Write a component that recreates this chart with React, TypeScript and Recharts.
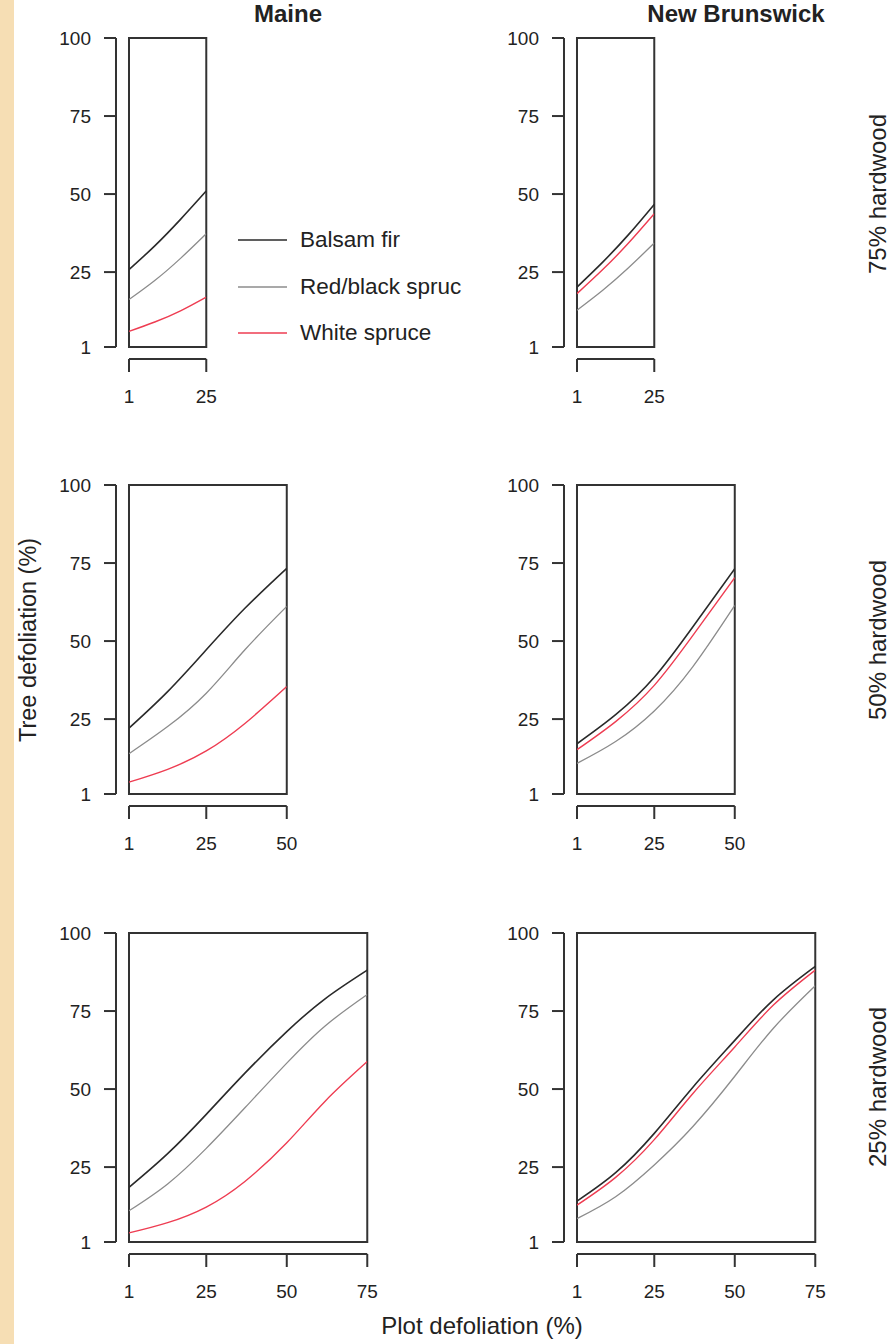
import React from 'react';
import { LineChart, Line, XAxis, YAxis, ReferenceArea, Legend } from 'recharts';

// ---------- data ----------
const Y_TICKS = [1, 25, 50, 75, 100];
const X_TICKS_25 = [1, 25];
const X_TICKS_50 = [1, 25, 50];
const X_TICKS_75 = [1, 25, 50, 75];

const X_ROW1 = [1, 9, 17, 25];
const X_ROW2 = [1, 13, 25, 37, 50];
const X_ROW3 = [1, 13, 25, 37, 50, 62, 75];

const maine75Balsam = [25.8, 33.4, 41.9, 51.0];
const maine75RedBlack = [16.2, 22.3, 29.4, 37.3];
const maine75White = [6.0, 9.0, 12.6, 17.0];

const nb75Balsam = [20.2, 28.2, 37.0, 46.7];
const nb75RedBlack = [12.8, 19.2, 26.4, 34.3];
const nb75White = [18.1, 25.8, 34.3, 43.7];

const maine50Balsam = [22.1, 33.8, 47.2, 60.5, 73.3];
const maine50RedBlack = [13.9, 22.6, 33.3, 47.2, 61.1];
const maine50White = [4.8, 8.9, 14.8, 23.6, 35.4];

const nb50Balsam = [17.1, 26.4, 38.4, 54.6, 73.2];
const nb50RedBlack = [10.8, 17.8, 27.6, 41.8, 61.4];
const nb50White = [15.2, 24.2, 35.8, 51.8, 70.3];

const maine25Balsam = [18.5, 29.3, 41.9, 55.1, 68.4, 79.0, 88.1];
const maine25RedBlack = [11.0, 19.6, 31.0, 44.0, 58.3, 70.3, 80.3];
const maine25White = [3.9, 7.2, 12.2, 20.4, 32.8, 46.2, 58.8];

const nb25Balsam = [14.1, 23.2, 35.8, 50.6, 65.6, 78.6, 89.3];
const nb25RedBlack = [8.5, 15.5, 25.7, 38.0, 54.1, 69.5, 83.1];
const nb25White = [12.8, 21.7, 33.8, 48.6, 63.5, 76.9, 88.1];

// legend labels as printed in the reference (the second one is cut by the panel edge there)
const SERIES_NAMES = ['Balsam fir', 'Red/black spruc', 'White spruce'];
const COLUMN_TITLES = ['Maine', 'New Brunswick'];
const ROW_LABELS = ['75% hardwood', '50% hardwood', '25% hardwood'];
const Y_TITLE = 'Tree defoliation (%)';
const X_TITLE = 'Plot defoliation (%)';

const rows = (xs: number[], b: number[], r: number[], w: number[]) =>
  xs.map((x, i) => ({ x, balsam: b[i], redblack: r[i], white: w[i] }));

// ---------- layout / style ----------
const FONT = "'Liberation Sans', Arial, Helvetica, sans-serif";
const PX_PER_UNIT = 3.22;
const PLOT_H = 309;
const MARGIN_TOP = 10;
const Y_INNER_W = 13;
const Y_OUTER_W = 60;
const X_INNER_H = 12;
const X_OUTER_H = 50;
const COL_LEFT = [128.7, 576.5];
const ROW_TOP = [37.7, 485.3, 933.3];
const AXIS_COLOR = '#333';
const TEXT_COLOR = '#222';
const COLORS = { balsam: '#2a2a2a', redblack: '#8c8c8c', white: '#ee3d52' };
const LEGEND_LEFT = 238;
const LEGEND_TOP = 217;

const renderLegend = (props: any) => {
  const payload = props.payload || [];
  return (
    <div>
      {payload.map((e: any, i: number) => (
        <div
          key={i}
          style={{ display: 'flex', alignItems: 'center', height: 46.5, whiteSpace: 'nowrap' }}
        >
          <svg width={49} height={4} style={{ flex: 'none' }}>
            <line x1={0} x2={49} y1={2} y2={2} stroke={e.color} strokeWidth={1.5} />
          </svg>
          <span style={{ marginLeft: 13, fontSize: 22.5, fontFamily: FONT, color: TEXT_COLOR }}>
            {e.value}
          </span>
        </div>
      ))}
    </div>
  );
};

type PanelProps = {
  col: number;
  row: number;
  xMax: number;
  xTicks: number[];
  data: any[];
  showLegend?: boolean;
};

function Panel({ col, row, xMax, xTicks, data, showLegend }: PanelProps) {
  const boxLeft = COL_LEFT[col];
  const boxTop = ROW_TOP[row];
  const plotW = (xMax - 1) * PX_PER_UNIT;
  const marginRight = showLegend ? 280 : 30;
  const width = Y_OUTER_W + Y_INNER_W + plotW + marginRight;
  const height = MARGIN_TOP + PLOT_H + X_INNER_H + X_OUTER_H;
  const chartLeft = boxLeft - Y_OUTER_W - Y_INNER_W;
  const chartTop = boxTop - MARGIN_TOP;
  const tickStyle = { fontSize: 19, fill: TEXT_COLOR, fontFamily: FONT };
  const lineStyle = { stroke: AXIS_COLOR, strokeWidth: 2 };
  return (
    <div style={{ position: 'absolute', left: chartLeft, top: chartTop }}>
      <LineChart
        width={width}
        height={height}
        data={data}
        margin={{ top: MARGIN_TOP, right: marginRight, bottom: 0, left: 0 }}
      >
        <XAxis
          xAxisId="in"
          dataKey="x"
          type="number"
          domain={[1, xMax]}
          height={X_INNER_H}
          tick={false}
          axisLine={false}
          tickLine={false}
          allowDataOverflow
        />
        <XAxis
          xAxisId="out"
          dataKey="x"
          type="number"
          domain={[1, xMax]}
          ticks={xTicks}
          interval={0}
          height={X_OUTER_H}
          tickSize={13}
          tickMargin={18}
          axisLine={lineStyle}
          tickLine={lineStyle}
          tick={tickStyle}
          allowDataOverflow
        />
        <YAxis
          yAxisId="in"
          type="number"
          domain={[1, 100]}
          width={Y_INNER_W}
          tick={false}
          axisLine={false}
          tickLine={false}
          allowDataOverflow
        />
        <YAxis
          yAxisId="out"
          type="number"
          domain={[1, 100]}
          ticks={Y_TICKS}
          interval={0}
          width={Y_OUTER_W}
          tickSize={12}
          tickMargin={13}
          axisLine={lineStyle}
          tickLine={lineStyle}
          tick={tickStyle}
          allowDataOverflow
        />
        <ReferenceArea
          xAxisId="in"
          yAxisId="in"
          x1={1}
          x2={xMax}
          y1={1}
          y2={100}
          fill="none"
          fillOpacity={0}
          stroke={AXIS_COLOR}
          strokeWidth={2}
          ifOverflow="visible"
        />
        <Line
          xAxisId="in"
          yAxisId="in"
          type="natural"
          dataKey="balsam"
          name={SERIES_NAMES[0]}
          stroke={COLORS.balsam}
          strokeWidth={1.6}
          dot={false}
          isAnimationActive={false}
        />
        <Line
          xAxisId="in"
          yAxisId="in"
          type="natural"
          dataKey="redblack"
          name={SERIES_NAMES[1]}
          stroke={COLORS.redblack}
          strokeWidth={1.3}
          dot={false}
          isAnimationActive={false}
        />
        <Line
          xAxisId="in"
          yAxisId="in"
          type="natural"
          dataKey="white"
          name={SERIES_NAMES[2]}
          stroke={COLORS.white}
          strokeWidth={1.4}
          dot={false}
          isAnimationActive={false}
        />
        {showLegend && (
          <Legend
            layout="vertical"
            align="center"
            verticalAlign="middle"
            content={renderLegend}
            wrapperStyle={{
              position: 'absolute',
              left: LEGEND_LEFT - chartLeft,
              top: LEGEND_TOP - chartTop,
              width: 'auto',
              height: 'auto',
            }}
          />
        )}
      </LineChart>
    </div>
  );
}

export default function App() {
  const textBase = { fontFamily: FONT, fill: TEXT_COLOR } as any;
  return (
    <div
      style={{
        position: 'absolute',
        left: 0,
        top: 0,
        width: 894,
        height: 1344,
        background: '#ffffff',
        overflow: 'hidden',
      }}
    >
      <div
        style={{ position: 'absolute', left: 0, top: 0, width: 14, height: 1344, background: '#F6DEB4' }}
      />
      <svg width={894} height={1344} style={{ position: 'absolute', left: 0, top: 0 }}>
        <text x={288} y={22} textAnchor="middle" fontSize={24} fontWeight="bold" {...textBase}>
          {COLUMN_TITLES[0]}
        </text>
        <text x={736} y={22} textAnchor="middle" fontSize={24} fontWeight="bold" {...textBase}>
          {COLUMN_TITLES[1]}
        </text>
        <text transform="translate(886,194) rotate(-90)" textAnchor="middle" fontSize={24} {...textBase}>
          {ROW_LABELS[0]}
        </text>
        <text transform="translate(886,640) rotate(-90)" textAnchor="middle" fontSize={24} {...textBase}>
          {ROW_LABELS[1]}
        </text>
        <text transform="translate(886,1087) rotate(-90)" textAnchor="middle" fontSize={24} {...textBase}>
          {ROW_LABELS[2]}
        </text>
        <text transform="translate(35.5,640) rotate(-90)" textAnchor="middle" fontSize={23.5} {...textBase}>
          {Y_TITLE}
        </text>
        <text x={482} y={1334} textAnchor="middle" fontSize={24} {...textBase}>
          {X_TITLE}
        </text>
      </svg>
      <Panel col={0} row={0} xMax={25} xTicks={X_TICKS_25} data={rows(X_ROW1, maine75Balsam, maine75RedBlack, maine75White)} showLegend />
      <Panel col={1} row={0} xMax={25} xTicks={X_TICKS_25} data={rows(X_ROW1, nb75Balsam, nb75RedBlack, nb75White)} />
      <Panel col={0} row={1} xMax={50} xTicks={X_TICKS_50} data={rows(X_ROW2, maine50Balsam, maine50RedBlack, maine50White)} />
      <Panel col={1} row={1} xMax={50} xTicks={X_TICKS_50} data={rows(X_ROW2, nb50Balsam, nb50RedBlack, nb50White)} />
      <Panel col={0} row={2} xMax={75} xTicks={X_TICKS_75} data={rows(X_ROW3, maine25Balsam, maine25RedBlack, maine25White)} />
      <Panel col={1} row={2} xMax={75} xTicks={X_TICKS_75} data={rows(X_ROW3, nb25Balsam, nb25RedBlack, nb25White)} />
    </div>
  );
}
